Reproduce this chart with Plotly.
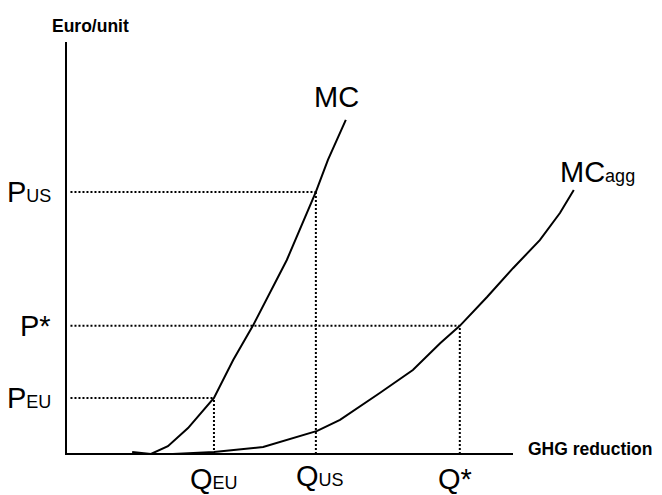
import plotly.graph_objects as go

# Data (abstract units: quantity 0-100 on the drawn x-axis, price 0-100 on the drawn y-axis)
mc_q = [14.8, 19.0, 22.8, 27.3, 33.1, 37.4, 41.8, 49.4, 55.9, 58.6, 62.6]
mc_p = [0.5, 0.0, 1.9, 6.3, 13.6, 22.8, 31.1, 47.1, 63.6, 71.4, 81.1]

mcagg_q = [19.0, 23.9, 33.1, 44.1, 56.2, 61.3, 70.2, 77.6, 83.7, 88.1, 94.2, 100.0, 106.0, 110.5, 113.6]
mcagg_p = [0.0, 0.0, 0.5, 1.7, 5.6, 8.3, 14.8, 20.4, 26.9, 31.1, 38.1, 45.1, 51.9, 58.5, 64.1]

q_levels = {"EU": 33.1, "US": 55.9, "star": 88.1}
p_levels = {"EU": 13.6, "US": 63.6, "star": 31.1}
axis_max = 100

FONT = "Arial, Liberation Sans, sans-serif"
fig = go.Figure()

# axes
fig.add_trace(go.Scatter(x=[0, 0, axis_max], y=[axis_max, 0, 0], mode="lines",
                         line=dict(color="black", width=2), hoverinfo="skip"))

dot = dict(color="black", width=2, dash="2px,2px")
for key in ["US", "star", "EU"]:
    fig.add_trace(go.Scatter(x=[1.0, q_levels[key]], y=[p_levels[key], p_levels[key]],
                             mode="lines", line=dot, hoverinfo="skip"))
    fig.add_trace(go.Scatter(x=[q_levels[key], q_levels[key]], y=[0, p_levels[key]],
                             mode="lines", line=dot, hoverinfo="skip"))

# curves
fig.add_trace(go.Scatter(x=mc_q, y=mc_p, mode="lines", line=dict(color="black", width=2)))
fig.add_trace(go.Scatter(x=mcagg_q, y=mcagg_p, mode="lines", line=dict(color="black", width=2)))

big = dict(family=FONT, size=29, color="black")
small_span = "<span style='font-size:18px'>%s</span>"

ann = []
ann.append(dict(x=-2.9, y=p_levels["US"], text="P" + small_span % "US", xanchor="right", yanchor="middle"))
ann.append(dict(x=-2.9, y=p_levels["star"], text="P*", xanchor="right", yanchor="middle"))
ann.append(dict(x=-2.9, y=p_levels["EU"], text="P" + small_span % "EU", xanchor="right", yanchor="middle"))
ann.append(dict(x=q_levels["EU"], y=-1.8, text="Q" + small_span % "EU", xanchor="center", yanchor="top"))
ann.append(dict(x=q_levels["US"] + 0.9, y=-9.6, text="Q" + small_span % "US", xanchor="center", yanchor="bottom"))
ann.append(dict(x=q_levels["star"] - 1.1, y=-1.8, text="Q*", xanchor="center", yanchor="top"))
ann.append(dict(x=60.6, y=86.6, text="MC", xanchor="center", yanchor="middle"))
ann.append(dict(x=119.0, y=68.4, text="MC" + small_span % "agg", xanchor="center", yanchor="middle"))
for a in ann:
    a.update(xref="x", yref="y", showarrow=False, font=big)

bold = dict(family=FONT, size=17.5, color="black")
ann.append(dict(x=5.5, y=104.0, text="<b>Euro/unit</b>", xref="x", yref="y", showarrow=False,
                xanchor="center", yanchor="middle", font=bold))
ann.append(dict(x=102.8, y=1.2, text="<b>GHG reduction</b>", xref="x", yref="y", showarrow=False,
                xanchor="left", yanchor="middle", font=bold))

# page body has an 8px margin: figure covers 654x487 of the 662x495 window
fig.update_layout(
    width=654, height=487,
    margin=dict(l=0, r=0, t=0, b=0),
    paper_bgcolor="white", plot_bgcolor="white",
    showlegend=False,
    annotations=ann,
    xaxis=dict(range=[-58 / 4.47, 596 / 4.47], visible=False, fixedrange=True),
    yaxis=dict(range=[-41 / 4.12, 446 / 4.12], visible=False, fixedrange=True),
)

fig.write_html("out.html")
